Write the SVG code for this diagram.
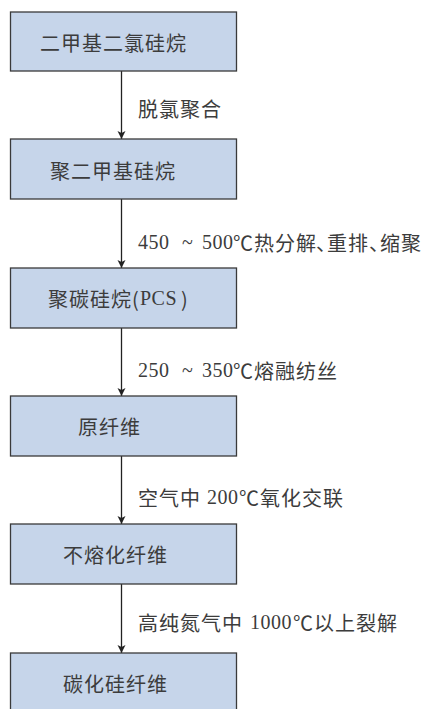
<svg xmlns="http://www.w3.org/2000/svg" width="425" height="709" viewBox="0 0 425 709">
<style>
.box{fill:#c6d5ea;stroke:#3a3a3a;stroke-width:1.3}
.t{font-family:"Liberation Serif","Noto Sans CJK SC",serif;font-size:20px;fill:#3c3c3c;letter-spacing:1px;dominant-baseline:central}
.c{font-family:"Noto Sans CJK SC",sans-serif}
.n{font-family:"Liberation Serif",serif;letter-spacing:0.5px}
.e{stroke:#222;stroke-width:1.3;fill:none;marker-end:url(#ah)}
</style>
<defs>
<marker id="ah" viewBox="0 0 8 10" refX="8" refY="5" markerWidth="8" markerHeight="10" markerUnits="userSpaceOnUse" orient="auto">
<path d="M0,1 L8,5 L0,9 L2,5 Z" fill="#222"/>
</marker>
</defs>
<rect width="425" height="709" fill="#fff"/>
<g id="connectors">
<line class="e" x1="121.5" y1="71" x2="121.5" y2="139"/>
<line class="e" x1="121.5" y1="199" x2="121.5" y2="268"/>
<line class="e" x1="121.5" y1="328" x2="121.5" y2="396"/>
<line class="e" x1="121.5" y1="456" x2="121.5" y2="524"/>
<line class="e" x1="121.5" y1="584" x2="121.5" y2="653"/>
<text class="t" y="108"><tspan class="c" x="138">脱氯聚合</tspan></text>
<text class="t" y="242"><tspan class="n" x="138">450</tspan><tspan class="n" x="182">~</tspan><tspan class="n" x="202">500</tspan><tspan class="c" x="233">℃热分解</tspan><tspan class="c" x="316" letter-spacing="-9">、</tspan><tspan class="c" x="327">重排</tspan><tspan class="c" x="369" letter-spacing="-9">、</tspan><tspan class="c" x="380">缩聚</tspan></text>
<text class="t" y="370"><tspan class="n" x="138">250</tspan><tspan class="n" x="182">~</tspan><tspan class="n" x="202">350</tspan><tspan class="c" x="233">℃熔融纺丝</tspan></text>
<text class="t" y="497"><tspan class="c" x="138">空气中</tspan><tspan class="n" x="207">200</tspan><tspan class="c" x="239">℃氧化交联</tspan></text>
<text class="t" y="622"><tspan class="c" x="138">高纯氮气中</tspan><tspan class="n" x="250">1000</tspan><tspan class="c" x="293">℃以上裂解</tspan></text>
</g>
<g id="n1"><rect class="box" x="10.5" y="12" width="226" height="59"/><text class="t" x="40" y="41.5"><tspan class="c">二甲基二氯硅烷</tspan></text></g>
<g id="n2"><rect class="box" x="10.5" y="139" width="226" height="60"/><text class="t" x="50" y="170"><tspan class="c">聚二甲基硅烷</tspan></text></g>
<g id="n3"><rect class="box" x="10.5" y="268" width="226" height="60"/><text class="t" y="298"><tspan class="c" x="48">聚碳硅烷(</tspan><tspan class="n" x="140">PCS</tspan><tspan class="c" x="181">)</tspan></text></g>
<g id="n4"><rect class="box" x="10.5" y="396" width="226" height="60"/><text class="t" x="78" y="426"><tspan class="c">原纤维</tspan></text></g>
<g id="n5"><rect class="box" x="10.5" y="524" width="226" height="60"/><text class="t" x="63" y="554"><tspan class="c">不熔化纤维</tspan></text></g>
<g id="n6"><rect class="box" x="10.5" y="653" width="226" height="60"/><text class="t" x="63" y="683"><tspan class="c">碳化硅纤维</tspan></text></g>
</svg>
